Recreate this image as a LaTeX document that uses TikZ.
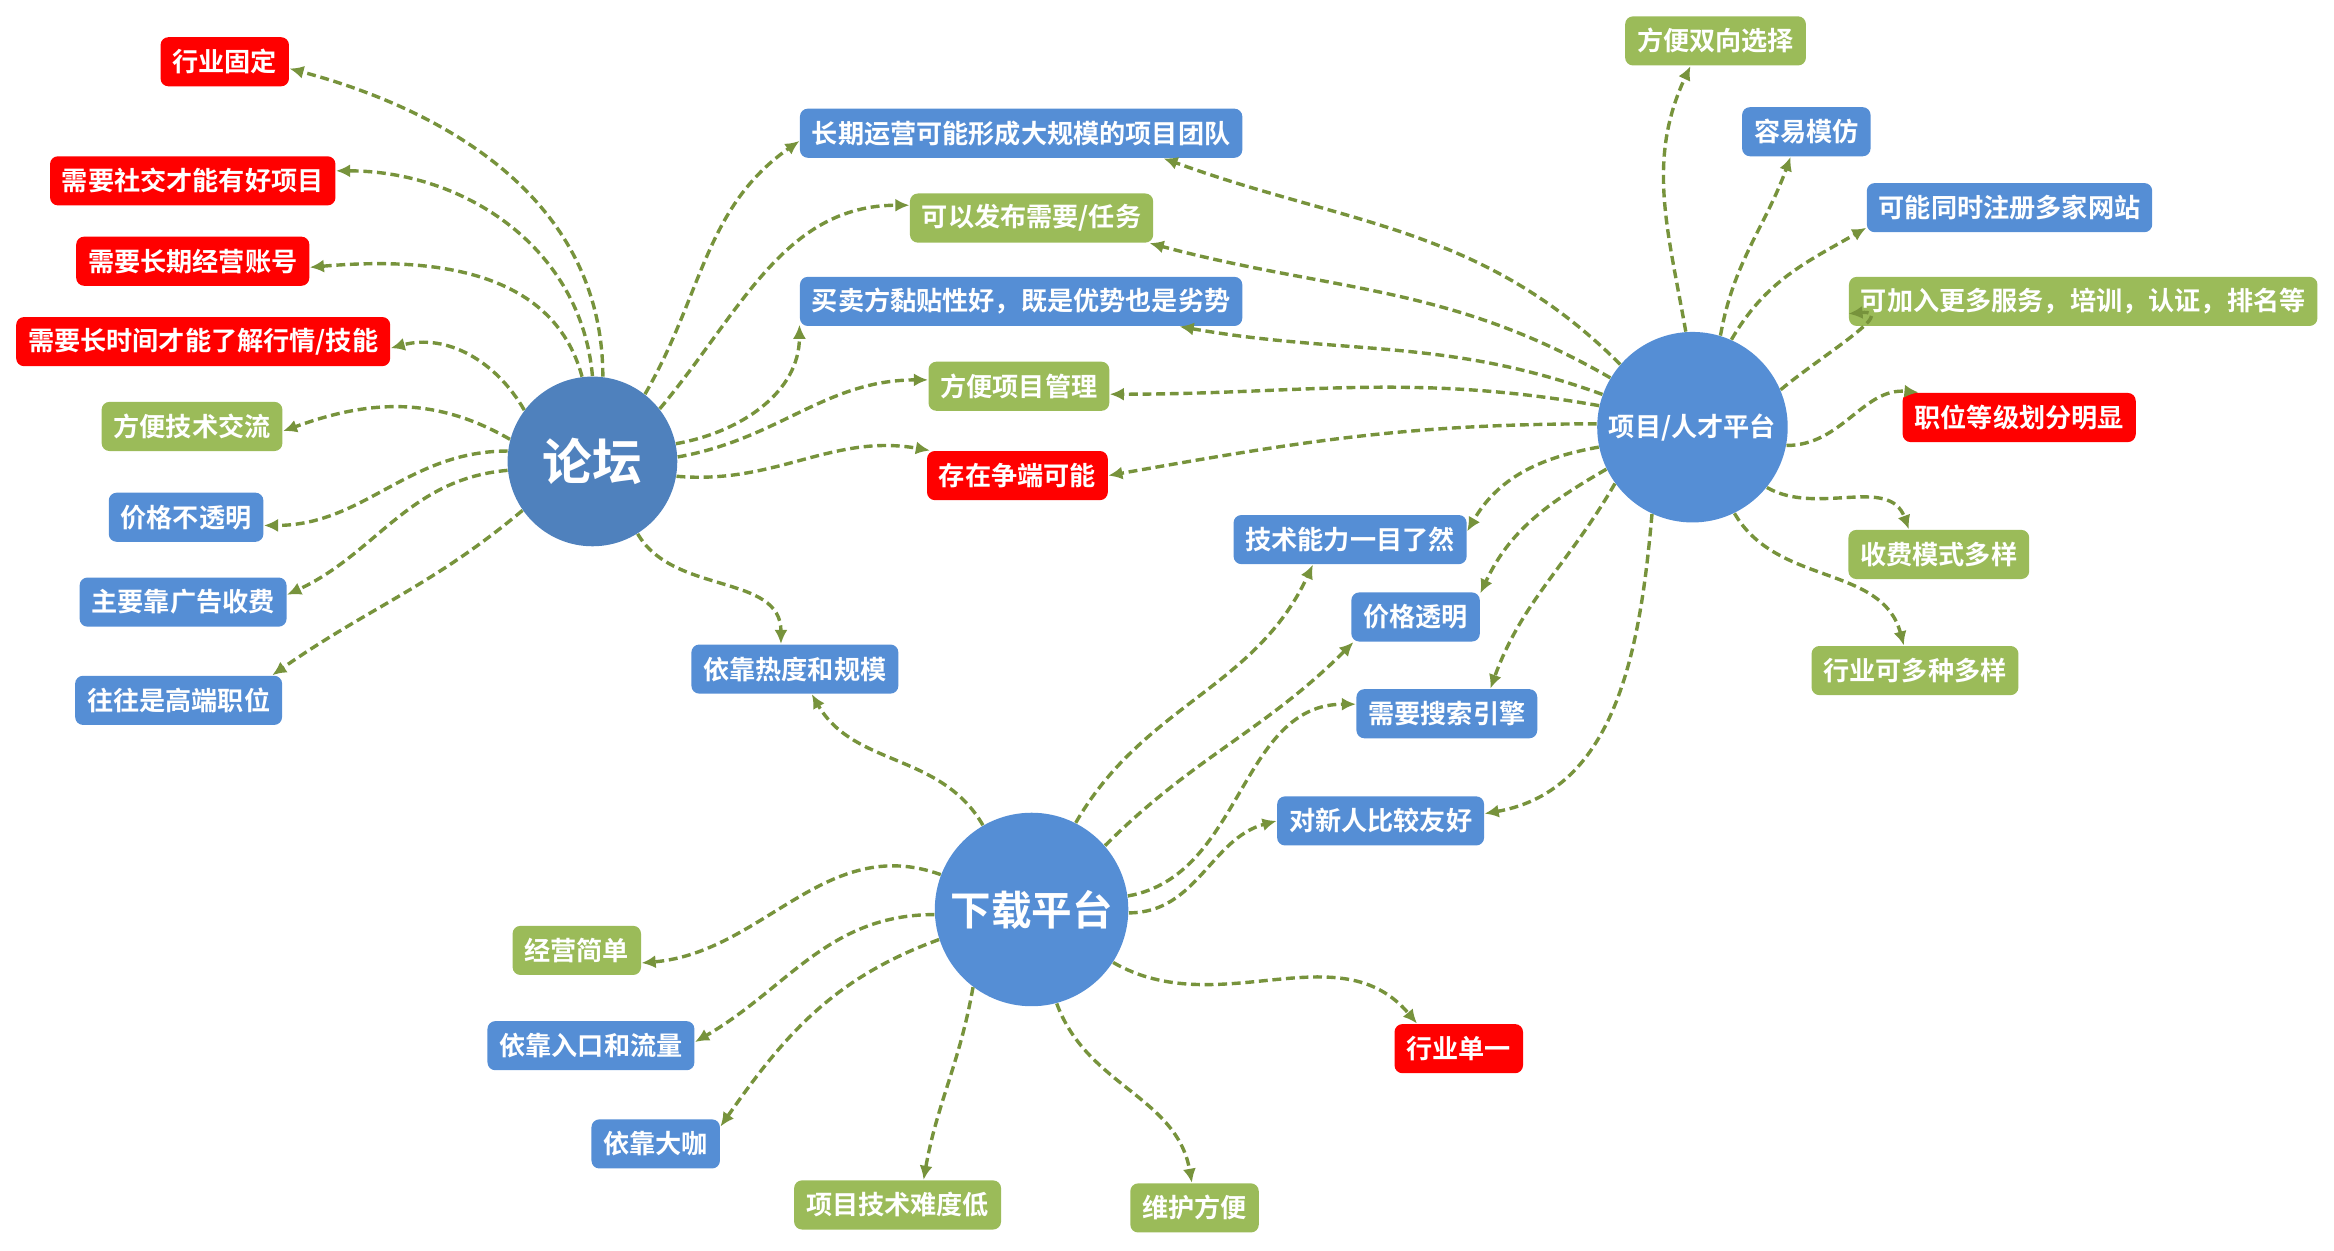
\documentclass[tikz,border=0pt]{standalone}
\usepackage{fontspec}
\setmainfont{Noto Sans CJK SC}[BoldFont={Noto Sans CJK SC Bold}]
\usetikzlibrary{arrows.meta}
\usepackage{xcolor}
\definecolor{boxblue}{HTML}{558ED5}
\definecolor{boxgreen}{HTML}{9BBB59}
\definecolor{boxred}{HTML}{FF0000}
\definecolor{hubdark}{HTML}{4F81BD}
\definecolor{linkolive}{HTML}{77933C}

\begin{document}
\begin{tikzpicture}[
  every node/.style={text=white, font=\bfseries\fontsize{10}{10}\selectfont},
  tag/.style={rounded corners=3pt, minimum height=0.66cm, inner xsep=0.16cm, inner ysep=0pt},
  bluetag/.style={tag, fill=boxblue},
  greentag/.style={tag, fill=boxgreen},
  redtag/.style={tag, fill=boxred},
  hub/.style={circle, fill=boxblue, inner sep=0pt},
  link/.style={draw=linkolive, line width=1.3pt, dash pattern=on 3.4pt off 1.8pt,
    -{Latex[length=5.4pt,width=5pt,fill=linkolive]}}
]
\useasboundingbox (0,0) rectangle (31.36,16.8);

% the three hubs
\node[hub, fill=hubdark, minimum size=2.28cm, font=\bfseries\fontsize{19}{19}\selectfont] (forum) at (7.96,10.6) {论坛};
\node[hub, minimum size=2.56cm] (job) at (22.74,11.06) {项目/人才平台};
\node[hub, minimum size=2.6cm, font=\bfseries\fontsize{15.5}{15.5}\selectfont] (down) at (13.86,4.58) {下载平台};

% left of the forum
\node[redtag] (b1) at (3.02,15.97) {行业固定};
\node[redtag] (b2) at (2.59,14.37) {需要社交才能有好项目};
\node[redtag] (b3) at (2.59,13.29) {需要长期经营账号};
\node[redtag] (b4) at (2.73,12.21) {需要长时间才能了解行情/技能};
\node[greentag] (b5) at (2.58,11.07) {方便技术交流};
\node[bluetag] (b6) at (2.50,9.85) {价格不透明};
\node[bluetag] (b7) at (2.46,8.71) {主要靠广告收费};
\node[bluetag] (b8) at (2.40,7.39) {往往是高端职位};

% shared by forum and platform
\node[bluetag] (b9) at (13.72,15.01) {长期运营可能形成大规模的项目团队};
\node[greentag] (b10) at (13.86,13.87) {可以发布需要/任务};
\node[bluetag] (b11) at (13.72,12.75) {买卖方黏贴性好，既是优势也是劣势};
\node[greentag] (b12) at (13.69,11.61) {方便项目管理};
\node[redtag] (b13) at (13.67,10.41) {存在争端可能};
\node[bluetag] (b14) at (10.68,7.81) {依靠热度和规模};

% right of the platform
\node[greentag] (b15) at (23.05,16.25) {方便双向选择};
\node[bluetag] (b16) at (24.27,15.03) {容易模仿};
\node[bluetag] (b17) at (27.00,14.01) {可能同时注册多家网站};
\node[greentag] (b18) at (27.99,12.75) {可加入更多服务，培训，认证，排名等};
\node[redtag] (b19) at (27.13,11.19) {职位等级划分明显};
\node[greentag] (b20) at (26.05,9.35) {收费模式多样};
\node[greentag] (b21) at (25.73,7.79) {行业可多种多样};

% shared by platform and download
\node[bluetag] (b22) at (18.14,9.55) {技术能力一目了然};
\node[bluetag] (b23) at (19.02,8.51) {价格透明};
\node[bluetag] (b24) at (19.44,7.21) {需要搜索引擎};
\node[bluetag] (b25) at (18.55,5.77) {对新人比较友好};

% around the download hub
\node[greentag] (b26) at (7.75,4.03) {经营简单};
\node[bluetag] (b27) at (7.94,2.75) {依靠入口和流量};
\node[bluetag] (b28) at (8.81,1.43) {依靠大咖};
\node[greentag] (b29) at (12.06,0.61) {项目技术难度低};
\node[greentag] (b30) at (16.05,0.57) {维护方便};
\node[redtag] (b31) at (19.60,2.71) {行业单一};

% links from the forum
\foreach \a/\o/\i/\b/\e in {83/90/-15/b1/-6, 90/95/0/b2/4, 97/105/5/b3/-3,
    143/120/15/b4/-2, 165/150/20/b5/-3, 173/180/0/b6/-6, 186/185/25/b7/4,
    215/220/35/b8/15, 52/60/215/b9/182, 38/50/180/b10/174, 12/10/-90/b11/186,
    3/10/180/b12/176, -10/-5/170/b13/164, -58/-60/90/b14/119}
  \draw[link] (forum.\a) to[out=\o,in=\i] (\b.\e);

% links from the platform
\foreach \a/\o/\i/\b/\e in {139/135/-20/b9/-10, 149/150/-15/b10/-12,
    160/160/-10/b11/-9, 167/170/0/b12/-5, 178/180/10/b13/0,
    192/190/60/b22/4, 206/210/65/b23/20, 216/240/70/b24/30, 245/-95/10/b25/4,
    94/100/-115/b15/225, 73/80/-110/b16/238, 66/60/210/b17/188,
    -11/0/175/b19/166, -39/-30/110/b20/140, -64/-60/105/b21/114}
  \draw[link] (job.\a) to[out=\o,in=\i] (\b.\e);
% the one that curls back into its box
\draw[link] (job.23) to[out=40,in=5,looseness=1.3] (b18.183);

% links from the download hub
\foreach \a/\o/\i/\b/\e in {120/120/-60/b14/-56, 63/60/-115/b22/214,
    41/45/-135/b23/202, 8/10/180/b24/174, -2/0/195/b25/180,
    -33/-30/130/b31/149, -75/-70/100/b30/96, 233/-100/80/b29/44,
    198/200/55/b28/15, 183/180/30/b27/2, 159/160/5/b26/-11}
  \draw[link] (down.\a) to[out=\o,in=\i] (\b.\e);

\end{tikzpicture}
\end{document}
